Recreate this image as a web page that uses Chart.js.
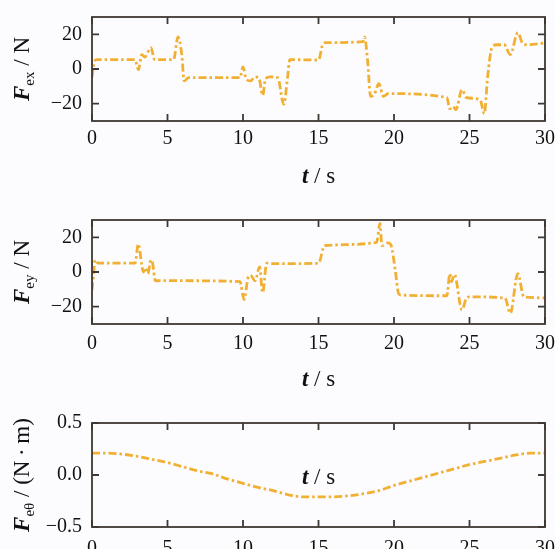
<!DOCTYPE html>
<html>
<head>
<meta charset="UTF-8">
<title>Fex Fey Feθ</title>
<script src="https://cdn.jsdelivr.net/npm/chart.js"></script>
<style>
    html, body { margin: 0; padding: 0; background: #fcfcfe; overflow: hidden; }
    .box { position: absolute; left: 0; width: 555px; height: 203px; }
</style>
</head>
<body>
<div class="box" style="top:0px"><canvas id="c1" width="555" height="203"></canvas></div>
<div class="box" style="top:203px"><canvas id="c2" width="555" height="203"></canvas></div>
<div class="box" style="top:406px"><canvas id="c3" width="555" height="203"></canvas></div>

<script>
// values
const fexTime = [0, 0.15, 0.3, 2.85, 3.07, 3.3, 3.5, 3.9, 4.15, 5.4, 5.7, 5.95, 6.1, 6.4, 9.8, 10.0, 10.2, 10.5, 10.8, 11.05, 11.3, 11.5, 11.8, 12.3, 12.7, 12.95, 13.1, 15.0, 15.3, 15.5, 17.95, 18.05, 18.25, 18.45, 18.7, 19.0, 19.3, 19.6, 23.5, 23.7, 23.9, 24.1, 24.5, 24.8, 25.7, 25.98, 26.2, 26.5, 26.8, 27.3, 27.7, 28.2, 28.5, 28.8, 30];
const fexValues = [-5, 4, 5.4, 5.4, -0.4, 8.3, 6.9, 12.3, 5.4, 5.4, 18.5, 8, -6.9, -5, -5, 1.2, -5.6, -6.9, -4.6, -5, -15.2, -5.6, -4.6, -5, -20.4, -5, 5.4, 5.2, 14.6, 15.2, 15.8, 18.5, 5, -15.8, -14.5, -8.5, -15.8, -14.2, -16.5, -22.9, -21.5, -23.5, -11.9, -16.5, -17.7, -25.8, -4.6, 12.7, 14, 14, 8.3, 21, 15, 14, 15];

const feyTime = [0, 0.1, 0.2, 0.4, 2.85, 3.07, 3.3, 3.4, 3.55, 3.7, 3.9, 4.0, 4.2, 4.5, 9.8, 10.07, 10.35, 10.5, 10.8, 11.1, 11.3, 11.57, 12, 15.0, 15.4, 18.85, 19.07, 19.2, 19.6, 19.8, 20.1, 20.3, 20.5, 23.5, 23.7, 23.8, 24.0, 24.5, 24.8, 25.0, 27.35, 27.7, 28.2, 28.6, 30];
const feyValues = [-10.5, -2, 7, 5.1, 5.1, 16.2, 4, 0, 2.5, -1, 7, 5.5, -5.1, -5, -5.5, -15.8, -2.9, -1.9, -5.1, 2.9, -12, 5.1, 4.8, 5, 15.2, 17.1, 28, 15.2, 16.8, 15.5, 0, -12.4, -13.3, -13.7, -1, -5.7, -1.5, -21.9, -15, -14.3, -15, -23.8, -1, -14.3, -14.9];

const fethTime = [0, 1, 2, 3, 4, 5, 6, 7, 8, 9, 10, 11, 12, 13, 14, 15, 16, 17, 18, 19, 20, 21, 22, 23, 24, 25, 26, 27, 28, 29, 30];
const fethValues = [0.21, 0.21, 0.20, 0.18, 0.15, 0.12, 0.08, 0.04, 0.01, -0.04, -0.08, -0.12, -0.15, -0.19, -0.21, -0.21, -0.21, -0.20, -0.18, -0.15, -0.10, -0.06, -0.02, 0.02, 0.06, 0.10, 0.13, 0.16, 0.19, 0.21, 0.21];

const forceTicks = [-20, 0, 20];
const torqueTicks = [-0.5, 0, 0.5];

const serif = '"Liberation Serif", "DejaVu Serif", serif';
const lineColor = '#f1b033';
const frameColor = '#3f3833';
const textColor = '#111';

function minus(s) { return s.replace('-', '\u2212'); }

// frame with inward ticks on all four sides, plus the axis titles
const framePlugin = {
    id: 'frame',
    afterDatasetsDraw(chart, args, opts) {
        const ctx = chart.ctx;
        const a = chart.chartArea;
        const x = chart.scales.x, y = chart.scales.y;
        ctx.save();
        ctx.strokeStyle = frameColor;
        ctx.lineWidth = 1.8;
        ctx.strokeRect(a.left, a.top, a.right - a.left, a.bottom - a.top);
        ctx.beginPath();
        x.ticks.forEach(t => {
            const px = x.getPixelForValue(t.value);
            ctx.moveTo(px, a.top); ctx.lineTo(px, a.top + 7);
            ctx.moveTo(px, a.bottom); ctx.lineTo(px, a.bottom - 7);
        });
        y.ticks.forEach(t => {
            const py = y.getPixelForValue(t.value);
            ctx.moveTo(a.left, py); ctx.lineTo(a.left + 7, py);
            ctx.moveTo(a.right, py); ctx.lineTo(a.right - 7, py);
        });
        ctx.stroke();

        ctx.fillStyle = textColor;
        ctx.textBaseline = 'alphabetic';

        // y title, rotated
        const parts = opts.yParts;
        let total = 0;
        parts.forEach(p => { ctx.font = p.font; p.w = ctx.measureText(p.text).width; total += p.w; });
        ctx.save();
        ctx.translate(22, (a.top + a.bottom) / 2);
        ctx.rotate(-Math.PI / 2);
        let cx = -total / 2;
        parts.forEach(p => {
            ctx.font = p.font;
            ctx.fillText(p.text, cx, p.sub ? 12 : 7);
            cx += p.w;
        });
        ctx.restore();

        // x title "t / s"
        const tx = x.getPixelForValue(15);
        const ty = opts.xTitleInside ? y.getPixelForValue(0) + 9 : 183;
        ctx.font = 'bold italic 23px ' + serif;
        const w1 = ctx.measureText('t').width;
        ctx.font = '23px ' + serif;
        const w2 = ctx.measureText(' / s').width;
        let sx = tx - (w1 + w2) / 2;
        ctx.font = 'bold italic 23px ' + serif;
        ctx.fillText('t', sx, ty);
        ctx.font = '23px ' + serif;
        ctx.fillText(' / s', sx + w1, ty);
        ctx.restore();
    }
};

function makeChart(id, times, values, cfg) {
    const points = times.map((t, i) => ({ x: t, y: values[i] }));
    return new Chart(document.getElementById(id), {
        type: 'line',
        data: {
            datasets: [{
                data: points,
                borderColor: lineColor,
                borderWidth: 2.8,
                borderDash: [8, 3, 2.5, 3],
                pointRadius: 0,
                cubicInterpolationMode: 'monotone',
                fill: false
            }]
        },
        options: {
            responsive: false,
            animation: false,
            devicePixelRatio: 1,
            layout: { padding: { top: 17, right: 10, left: 0, bottom: 0 } },
            plugins: {
                legend: { display: false },
                tooltip: { enabled: false },
                frame: { yParts: cfg.yParts, xTitleInside: cfg.xTitleInside }
            },
            scales: {
                x: {
                    type: 'linear',
                    min: 0, max: 30,
                    ticks: {
                        stepSize: 5,
                        padding: cfg.xPad,
                        color: textColor,
                        font: { family: serif, size: 20 },
                        maxRotation: 0
                    },
                    grid: { display: false, drawTicks: false },
                    border: { display: false },
                    afterFit(s) { s.height = 82; s.paddingLeft = 0; s.paddingRight = 0; }
                },
                y: {
                    min: cfg.min, max: cfg.max,
                    afterBuildTicks(s) { s.ticks = cfg.ticks.map(v => ({ value: v })); },
                    ticks: {
                        padding: 10,
                        color: textColor,
                        font: { family: serif, size: 20 },
                        callback: cfg.fmt
                    },
                    grid: { display: false, drawTicks: false },
                    border: { display: false },
                    afterFit(s) { s.width = 92; s.paddingTop = 0; s.paddingBottom = 0; }
                }
            }
        },
        plugins: [framePlugin]
    });
}

const fontF = 'bold italic 23px ' + serif;
const fontSub = '15px ' + serif;
const fontMain = '23px ' + serif;

makeChart('c1', fexTime, fexValues, {
    min: -30, max: 30, ticks: forceTicks, xPad: 6,
    fmt: v => minus(String(v)),
    yParts: [{ text: 'F', font: fontF }, { text: 'ex', font: fontSub, sub: true }, { text: ' / N', font: fontMain }]
});
makeChart('c2', feyTime, feyValues, {
    min: -30, max: 30, ticks: forceTicks, xPad: 8,
    fmt: v => minus(String(v)),
    yParts: [{ text: 'F', font: fontF }, { text: 'ey', font: fontSub, sub: true }, { text: ' / N', font: fontMain }]
});
makeChart('c3', fethTime, fethValues, {
    min: -0.5, max: 0.5, ticks: torqueTicks, xPad: 10, xTitleInside: true,
    fmt: v => minus(v.toFixed(1)),
    yParts: [{ text: 'F', font: fontF }, { text: 'e\u03b8', font: fontSub, sub: true }, { text: ' / (N\u2009\u00b7\u2009m)', font: fontMain }]
});
</script>
</body>
</html>
